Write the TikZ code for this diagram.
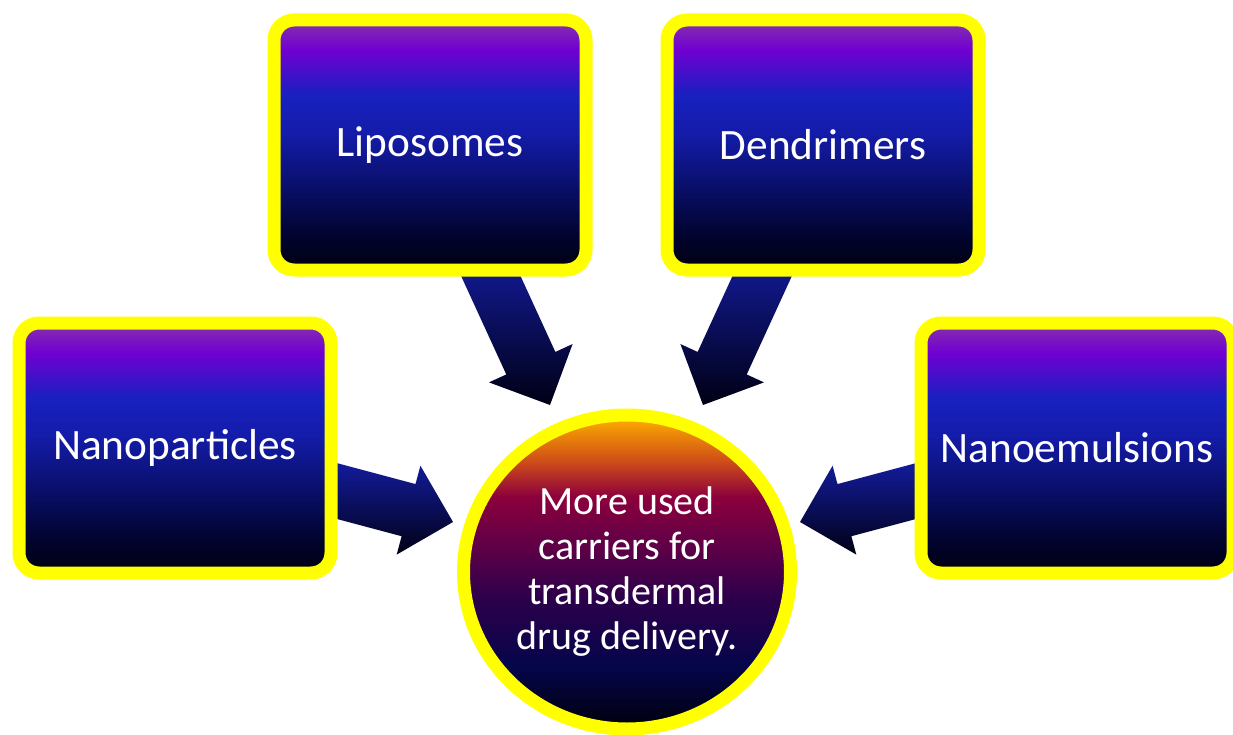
\documentclass[tikz,border=0pt]{standalone}
\usepackage{fontspec}
\setmainfont{Carlito}
\usetikzlibrary{calc,shapes.geometric,shadows}

\definecolor{hiyellow}{RGB}{255,255,0}
\definecolor{bxa}{RGB}{0,0,16}
\definecolor{bxb}{RGB}{2,4,50}
\definecolor{bxc}{RGB}{10,16,110}
\definecolor{bxd}{RGB}{20,28,170}
\definecolor{bxe}{RGB}{24,32,192}
\definecolor{bxf}{RGB}{112,0,210}
\definecolor{bxg}{RGB}{135,50,170}
\definecolor{hba}{RGB}{0,0,10}
\definecolor{hbb}{RGB}{5,5,75}
\definecolor{hbc}{RGB}{45,0,75}
\definecolor{hbd}{RGB}{100,0,70}
\definecolor{hbe}{RGB}{140,0,60}
\definecolor{hbf}{RGB}{205,75,25}
\definecolor{hbg}{RGB}{250,165,0}
\definecolor{arrtop}{RGB}{20,28,160}
\definecolor{arrbot}{RGB}{0,0,20}

\pgfdeclareverticalshading{boxshade}{100bp}{color(0bp)=(bxa); color(25bp)=(bxa); color(32.5bp)=(bxb); color(42.5bp)=(bxc); color(52.5bp)=(bxd); color(60bp)=(bxe); color(69bp)=(bxf); color(75bp)=(bxg); color(100bp)=(bxg)}
\pgfdeclareverticalshading{hubshade}{100bp}{color(0bp)=(hba); color(25bp)=(hba); color(35bp)=(hbb); color(46bp)=(hbc); color(55bp)=(hbd); color(62bp)=(hbe); color(67.5bp)=(hbf); color(74bp)=(hbg); color(100bp)=(hbg)}

\newcommand\myarrow[2]{%
  \coordinate (#1c) at ($(#2)!34.5pt!(#1)$);
  \path[arrowfill] ($(#1)!20.25pt!90:(#2)$) -- ($(#1c)!20.25pt!-90:(#1)$)
    -- ($(#1c)!34.5pt!-90:(#1)$) -- (#2) -- ($(#1c)!34.5pt!90:(#1)$)
    -- ($(#1c)!20.25pt!90:(#1)$) -- ($(#1)!20.25pt!-90:(#2)$) -- cycle;
}

\tikzset{
  boxnode/.style={rectangle, rounded corners=15pt, draw=hiyellow, line width=9.75pt,
    shading=boxshade, minimum width=234pt, minimum height=187.5pt, inner sep=0pt,
    text=white, font=\fontsize{32.5}{39}\selectfont,
    drop shadow={shadow xshift=2pt, shadow yshift=-3pt, opacity=0.18, fill=black}},
  hubnode/.style={ellipse, draw=hiyellow, line width=9.75pt, shading=hubshade,
    minimum width=245.25pt, minimum height=235.5pt, inner sep=0pt, align=center,
    text=white, font=\fontsize{30}{33.75}\selectfont,
    drop shadow={shadow xshift=2pt, shadow yshift=-3pt, opacity=0.18, fill=black}},
  arrowfill/.style={top color=arrtop, bottom color=arrbot}
}

\begin{document}
\begin{tikzpicture}[x=0.75pt,y=-0.75pt]
\useasboundingbox (0,0) rectangle (1233,735);
\fill[white] (0,0) rectangle (1233,735);

\coordinate (ta) at (483,259);
\coordinate (pa) at (550,405);
\coordinate (tb) at (770,259);
\coordinate (pb) at (703,405);
\coordinate (tc) at (318,486);
\coordinate (pc) at (453,522);
\coordinate (td) at (935,486);
\coordinate (pd) at (800,522);

\myarrow{ta}{pa}
\myarrow{tb}{pb}
\myarrow{tc}{pc}
\myarrow{td}{pd}

\node[boxnode] (lipo) at (430,145) {Liposomes};
\node[boxnode] (dend) at (823,145) {Dendrimers};
\node[boxnode] (nanop) at (175,448) {Nanoparticles};
\node[boxnode] (nanoe) at (1077,448) {Nanoemulsions};
\node[hubnode] (hub) at (627,572) {More used\\carriers for\\transdermal\\drug delivery.};
\end{tikzpicture}
\end{document}
